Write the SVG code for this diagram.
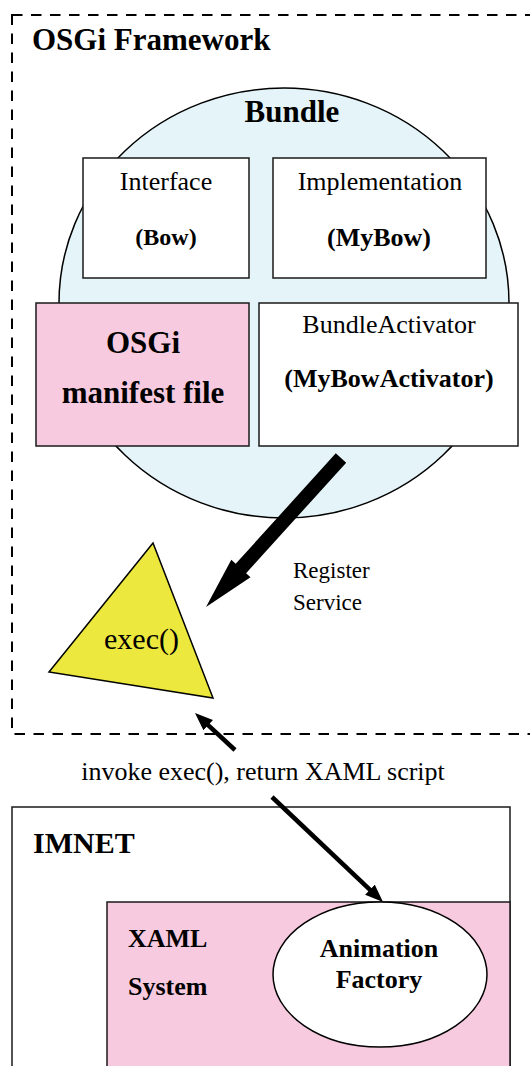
<svg xmlns="http://www.w3.org/2000/svg" width="530" height="1066" viewBox="0 0 530 1066">
<style>
.t{font-family:"Liberation Serif","Times New Roman",serif;fill:#000}
.b{font-weight:bold}
.box{stroke:#1a1a1a;stroke-width:1.5}
.conn{stroke:#000;stroke-width:4.5;fill:none}
</style>
<defs>
<marker id="ah" markerUnits="userSpaceOnUse" markerWidth="20" markerHeight="16" refX="6" refY="7" orient="auto">
<path d="M0,0 L18,7 L0,14 z" fill="#000"/>
</marker>
</defs>
<rect width="530" height="1066" fill="#fff"/>
<g id="osgi-framework">
<rect x="12" y="15" width="540" height="719" fill="none" stroke="#000" stroke-width="2" stroke-dasharray="10.5 8.5"/>
<text class="t b" x="32" y="50" font-size="31">OSGi Framework</text>
</g>
<g id="bundle">
<ellipse cx="284" cy="303" rx="225" ry="215" fill="#e4f4f8" stroke="#000" stroke-width="1.5"/>
<text class="t b" x="292" y="122" font-size="31" text-anchor="middle">Bundle</text>
</g>
<g id="interface">
<rect class="box" x="83" y="158" width="166" height="120" fill="#fff"/>
<text class="t" x="166" y="190" font-size="26" text-anchor="middle">Interface</text>
<text class="t b" x="166" y="245" font-size="24" text-anchor="middle">(Bow)</text>
</g>
<g id="implementation">
<rect class="box" x="273" y="158" width="213" height="120" fill="#fff"/>
<text class="t" x="380" y="190" font-size="26" text-anchor="middle">Implementation</text>
<text class="t b" x="379" y="246" font-size="26" text-anchor="middle">(MyBow)</text>
</g>
<g id="manifest">
<rect class="box" x="36" y="303" width="213" height="143" fill="#f7cadf"/>
<text class="t b" x="143" y="353" font-size="31" text-anchor="middle">OSGi</text>
<text class="t b" x="143" y="403" font-size="31" text-anchor="middle">manifest file</text>
</g>
<g id="activator">
<rect class="box" x="259" y="303" width="259" height="143" fill="#fff"/>
<text class="t" x="389" y="333" font-size="26" text-anchor="middle">BundleActivator</text>
<text class="t b" x="389" y="387" font-size="26" text-anchor="middle">(MyBowActivator)</text>
</g>
<g id="exec">
<polygon points="153,543 49,672 213,698" fill="#ece83e" stroke="#000" stroke-width="1.5"/>
<text class="t" x="141.5" y="649" font-size="30" text-anchor="middle">exec()</text>
</g>
<g id="imnet">
<rect class="box" x="12" y="807" width="498" height="280" fill="#fff"/>
<text class="t b" x="33" y="853" font-size="30">IMNET</text>
</g>
<g id="xaml-system">
<rect class="box" x="107" y="902" width="403" height="190" fill="#f7cadf"/>
<text class="t b" x="128" y="947" font-size="26">XAML</text>
<text class="t b" x="128" y="995" font-size="26">System</text>
</g>
<g id="animation-factory">
<ellipse cx="380" cy="974.5" rx="107" ry="72.5" fill="#fff" stroke="#000" stroke-width="1.5"/>
<text class="t b" x="379" y="957" font-size="26" text-anchor="middle">Animation</text>
<text class="t b" x="379" y="988" font-size="26" text-anchor="middle">Factory</text>
</g>
<g id="connectors">
<polygon points="206,607 231.3,559.8 235.7,563.8 335.8,453.3 346.2,462.7 246.1,573.2 250.5,577.2" fill="#000"/>
<text class="t" x="293" y="578" font-size="23">Register</text>
<text class="t" x="293" y="610" font-size="23">Service</text>
<line class="conn" x1="235" y1="750" x2="203.8" y2="721.1" marker-end="url(#ah)"/>
<line class="conn" x1="272" y1="797" x2="374.3" y2="893.8" marker-end="url(#ah)"/>
<text class="t" x="263" y="780" font-size="26" text-anchor="middle">invoke exec(), return XAML script</text>
</g>
</svg>
